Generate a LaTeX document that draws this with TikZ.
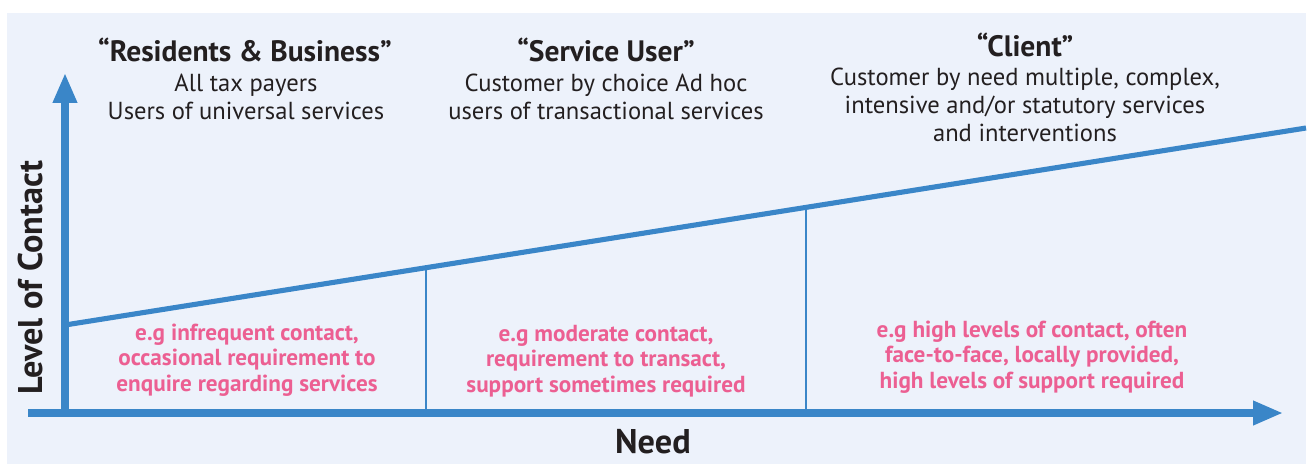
\documentclass[tikz,border=0pt]{standalone}
\usepackage{fontspec}
\setmainfont{PT Sans}
\usetikzlibrary{arrows.meta,positioning,calc}

\definecolor{axisblue}{HTML}{3A86C8}
\definecolor{panelbg}{HTML}{EDF2FB}
\definecolor{notepink}{HTML}{EC5F92}
\definecolor{inkgrey}{HTML}{231F20}

\begin{document}
\begin{tikzpicture}[x=0.02cm,y=-0.02cm,
    axis/.style={draw=axisblue,line width=4pt,-{Triangle[length=17pt,width=13pt]}},
    slope/.style={draw=axisblue,line width=2.9pt},
    divider/.style={draw=axisblue,line width=1.6pt},
    head/.style={text=inkgrey,font=\fontsize{16.8}{19}\selectfont\bfseries,inner sep=0pt},
    sub/.style={text=inkgrey,font=\fontsize{14}{15.9}\selectfont,align=center,inner sep=0pt},
    note/.style={text=notepink,font=\fontsize{13.2}{14.6}\selectfont\bfseries,align=center,inner sep=0pt},
    axlabel/.style={text=inkgrey,font=\fontsize{19.5}{22}\selectfont\bfseries,inner sep=0pt}]
    \useasboundingbox (0,0) rectangle (1309,464);
    \fill[panelbg] (7,13) rectangle (1306,464);

    % axes
    \coordinate (o)     at (65,413);
    \coordinate (xbase) at (28,413);
    \coordinate (xtip)  at (1283,413);
    \coordinate (ytip)  at (65,73);
    \draw[axis] (xbase) -- (xtip);
    \draw[axis] (o) -- (ytip);

    % contact line and the three bands
    \coordinate (s0) at (65,325);
    \coordinate (s1) at (1306,128);
    \draw[slope] (s0) -- (s1);
    \coordinate (d1) at ($(s0)!0.2909!(s1)$);
    \coordinate (d2) at ($(s0)!0.5971!(s1)$);
    \coordinate (b1) at (d1 |- o);
    \coordinate (b2) at (d2 |- o);
    \draw[divider] (b1) -- (d1);
    \draw[divider] (b2) -- (d2);

    \node[axlabel,rotate=90] (lvl)  at (31,278) {Level of Contact};
    \node[axlabel]           (need) at (653,442) {Need};

    % groups
    \node[head] (rb) at (245,50) {“Residents \& Business”};
    \node[sub]  (rbtxt) at (246,97) {All tax payers\\Users of universal services};
    \node[head] (su) at (606,50) {“Service User”};
    \node[sub]  (sutxt) at (606,97) {Customer by choice Ad hoc\\users of transactional services};
    \node[head] (cl) at (1025,45) {“Client”};
    \node[sub]  (cltxt) at (1025,105) {Customer by need multiple, complex,\\intensive and/or statutory services\\and interventions};

    % examples
    \node[note] (n1) at (247,360) {e.g infrequent contact,\\occasional requirement to\\enquire regarding services};
    \node[note] (n2) at (606,361) {e.g moderate contact,\\requirement to transact,\\support sometimes required};
    \node[note] (n3) at (1032,357) {e.g high levels of contact, often\\face-to-face, locally provided,\\high levels of support required};
\end{tikzpicture}
\end{document}
